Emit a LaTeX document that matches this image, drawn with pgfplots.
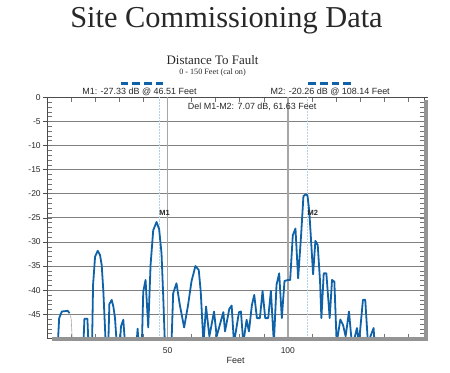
\documentclass[border=0pt]{standalone}
\usepackage{pgfplots}
\pgfplotsset{compat=1.18}
\usepackage{fontspec}
\setmainfont{Liberation Sans}
\newfontfamily\seriffont{Liberation Serif}
\definecolor{dtfblue}{RGB}{16,98,168}
\definecolor{mkblue}{RGB}{175,212,236}
\definecolor{txt}{RGB}{40,40,40}
\begin{document}
\begin{tikzpicture}[x=1bp,y=1bp]
\path[use as bounding box] (0,0) rectangle (450,372);
\begin{axis}[
  at={(47.2bp,33.6bp)}, anchor=south west,
  width=376.8bp, height=241.1bp, scale only axis,
  xmin=0, xmax=156.6, ymin=-50, ymax=0,
  xtick={50,100}, xticklabels={50,100},
  minor xtick={10,20,...,150},
  ytick={0,-5,-10,-15,-20,-25,-30,-35,-40,-45},
  yticklabels={0,-5,-10,-15,-20,-25,-30,-35,-40,-45},
  minor ytick={-49,-48,...,-1},
  ymajorgrids, grid style={color=black!50, line width=0.9bp},
  tick align=inside, major tick length=0bp, minor tick length=4.5bp,
  minor tick style={color=black!55, line width=0.5bp},
  extra y ticks={0,-5,-10,-15,-20,-25,-30,-35,-40,-45},
  extra y tick labels={},
  extra tick style={tick align=outside, major tick length=4bp, grid=none, major tick style={color=black!70, line width=0.6bp}},
  axis line style={color=black!70, line width=0.7bp},
  tick label style={font=\fontsize{8.5}{10}\selectfont, color=txt},
  yticklabel style={anchor=east, xshift=-3bp},
  xticklabel style={yshift=-5.5bp},
  xlabel={Feet}, xlabel style={font=\fontsize{9}{11}\selectfont, color=txt, yshift=3bp},
  clip=true,
]
\draw[black!35, line width=1.5bp] (axis cs:50,0) -- (axis cs:50,-50);
\draw[black!35, line width=1.5bp] (axis cs:100,0) -- (axis cs:100,-50);
\draw[mkblue, line width=0.5bp, densely dotted] (axis cs:46.51,0) -- (axis cs:46.51,-50);
\draw[mkblue, line width=0.5bp, densely dotted] (axis cs:108.14,0) -- (axis cs:108.14,-50);
\addplot[dtfblue, line width=1.8bp, line join=round] coordinates {
(4.42,-51) (4.97,-45.79) (6.08,-44.42) (8.56,-44.28) (9.25,-44.76)
};
\addplot[black!35, line width=0.6bp] coordinates {
(9.25,-44.76) (9.94,-45.79) (10.50,-51)
};
\addplot[dtfblue, line width=1.8bp, line join=round] coordinates {
(15.06,-51) (15.47,-45.93) (16.71,-45.93) (17.13,-51)
(18.65,-51) (19.06,-38.91) (19.89,-33.07) (20.99,-31.83) (21.96,-32.72) (22.65,-34.79) (23.34,-40.29) (24.31,-51)
(25.41,-51) (25.83,-42.90) (26.80,-42.01) (27.49,-43.38) (28.18,-45.79) (28.87,-51)
(30.25,-51) (30.66,-47.51) (31.63,-46.13) (32.32,-51)
(37.15,-51) (37.57,-47.99) (37.98,-51)
(39.36,-51) (39.92,-40.29) (40.88,-37.88) (41.99,-47.72) (42.96,-34.79) (44.06,-27.57) (45.44,-25.85) (46.51,-27.33) (47.51,-32.38) (48.20,-40.98) (48.90,-51)
(51.66,-51) (52.35,-40.63) (53.73,-38.57) (55.11,-43.04) (56.91,-47.72) (58.56,-43.04) (59.94,-38.23) (61.60,-34.99) (62.98,-35.82) (63.81,-40.29) (64.92,-51)
(66.02,-43.38) (67.40,-49.57) (69.34,-44.42) (70.44,-49.57) (73.20,-44.55) (73.90,-48.54) (75.69,-43.87) (76.66,-43.18) (77.62,-51)
(79.70,-44.55) (80.52,-44.42) (81.49,-51) (82.87,-46.13) (83.84,-48.54) (85.08,-43.04) (86.05,-40.98) (87.15,-45.79) (88.40,-45.79) (89.50,-40.15) (90.61,-45.79) (91.85,-45.79) (92.96,-40.15) (94.20,-51)
(95.30,-38.91) (96.41,-36.51) (97.51,-45.79) (98.62,-38.09) (100.00,-37.88) (100.97,-37.88) (102.07,-28.60) (103.18,-27.22) (104.28,-37.54) (105.52,-28.60) (106.49,-20.5) (107.30,-20.2) (108.14,-20.26) (108.9,-23.5) (109.53,-28.60) (110.50,-36.71)
(111.46,-29.77) (112.43,-30.66) (113.40,-38.23) (113.95,-45.79) (114.92,-36.51) (116.02,-36.51) (117.40,-45.79) (118.37,-37.88) (119.34,-38.23) (120.30,-51)
(121.82,-46.07) (122.93,-47.17) (124.03,-49.57) (125.41,-44.42) (126.38,-49.78) (127.21,-51) (128.73,-47.85) (129.56,-51) (131.22,-42.01) (132.18,-42.01) (133.29,-51) (135.64,-47.85) (136.05,-51)
};
\node[anchor=base west, inner sep=0, font=\bfseries\fontsize{7.5}{9}\selectfont, color=txt] at (axis cs:46.51,-24.6) {M1};
\node[anchor=base west, inner sep=0, font=\bfseries\fontsize{7.5}{9}\selectfont, color=txt] at (axis cs:108.14,-24.6) {M2};
\end{axis}
\fill[black!42] (52,31) rectangle (428,34.8);
\fill[black!42] (424.4,31) rectangle (428,272);
\draw[dtfblue, line width=2.5bp, dash pattern=on 7.6bp off 4bp] (120.7,288.7) -- (163.3,288.7);
\draw[dtfblue, line width=2.5bp, dash pattern=on 7.6bp off 4bp] (308.3,288.7) -- (351,288.7);
\node[anchor=base, inner sep=0, font=\seriffont\fontsize{30.5}{36}\selectfont, color=txt] at (226.5,345) {Site Commissioning Data};
\node[anchor=base, inner sep=0, font=\seriffont\fontsize{13}{15}\selectfont, color=txt] at (212.5,307.5) {Distance To Fault};
\node[anchor=base, inner sep=0, font=\seriffont\fontsize{8.2}{10}\selectfont, color=txt] at (212.5,297.5) {0 - 150 Feet (cal on)};
\node[anchor=base, inner sep=0, font=\fontsize{9}{11}\selectfont, color=txt] at (139.5,277.5) {M1: -27.33 dB @ 46.51 Feet};
\node[anchor=base, inner sep=0, font=\fontsize{9}{11}\selectfont, color=txt] at (330.2,277.5) {M2: -20.26 dB @ 108.14 Feet};
\node[anchor=base west, inner sep=0, font=\fontsize{9}{11}\selectfont, color=txt] at (187.7,262.5) {Del M1-M2: 7.07 dB, 61.63 Feet};
\end{tikzpicture}
\end{document}
